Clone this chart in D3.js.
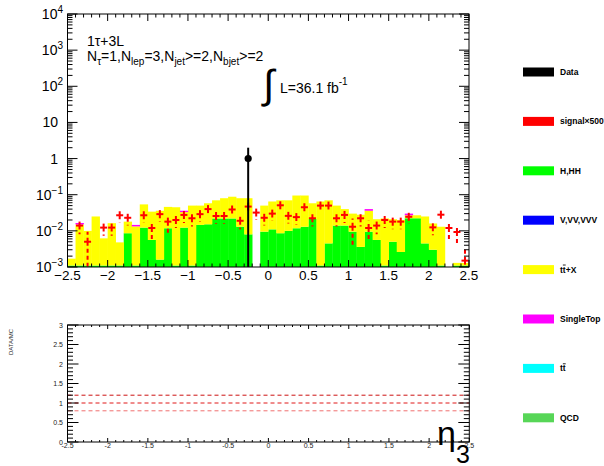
<!DOCTYPE html>
<html><head><meta charset="utf-8">
<script src="https://cdn.jsdelivr.net/npm/d3@7"></script>
<style>
body{margin:0;background:#fff}
svg{display:block}
text{font-family:"Liberation Sans",Arial,Helvetica,sans-serif}
</style>
</head><body>
<svg id="c" width="604" height="466"></svg>
<script>
// ---------------- data ----------------
const etaRange = [-2.5, 2.5];
const nBins = 50;
const xTickLabels = ["−2.5","−2","−1.5","−1","−0.5","0","0.5","1","1.5","2","2.5"];
const xTickValues = [-2.5,-2,-1.5,-1,-0.5,0,0.5,1,1.5,2,2.5];
const yExponents = [-3,-2,-1,0,1,2,3,4];
const ratioTicks = [0,0.5,1,1.5,2,2.5,3];
const ratioLines = [1.2,1.0,0.8];

// H,HH (green)
const hhh = [0.0011,0.0011,0.0011,0.0011,0.0011,0.0011,0.0011,0.0086,0.0011,0.0123,
  0.0056,0.0016,0.0118,0.0011,0.0123,0.0011,0.0146,0.0152,0.022,0.022,
  0.022,0.013,0.008,0,0.0095,0.011,0.0086,0.01,0.0118,0.013,
  0.0214,0.0011,0.0045,0.014,0.014,0.0095,0.0036,0.0095,0.0056,0.0011,
  0.005,0.0026,0.0223,0.0223,0.0045,0.003,0.0011,0,0.0011,0.0011];
// V,VV,VVV (blue) - empty
const vvv = [0,0,0,0,0,0,0,0,0,0, 0,0,0,0,0,0,0,0,0,0, 0,0,0,0,0,0,0,0,0,0,
  0,0,0,0,0,0,0,0,0,0, 0,0,0,0,0,0,0,0,0,0];
// ttbar+X (yellow)
const ttx = [0.0006,0.0139,0.0089,0.0239,0.0051,0.0152,0.0037,0.0094,0.0122,0.0417,
  0.0284,0.0344,0.0342,0.0439,0.0207,0.0489,0.0354,0.0428,0.048,0.058,
  0.066,0.067,0.072,0,0.0405,0.054,0.0614,0.06,0.0832,0.082,
  0.0366,0.0639,0.0655,0.036,0.026,0.0205,0.0244,0.0265,0.0154,0.0209,
  0.016,0.0174,0.0047,0.0047,0.0205,0.013,0.0119,0,0.0002,0.0002];
// SingleTop (magenta)
const singleTop = [0,0.0015,0,0,0,0,0,0,0.0013,0,
  0,0,0,0,0.003,0,0,0,0,0,
  0,0,0,0,0,0,0,0,0,0,
  0,0,0,0,0,0,0,0.004,0,0,
  0,0,0.003,0,0,0,0,0,0,0];
// signal x500
const signal = [0,0.014,0.005,0,0.0123,0.0123,0.027,0.023,0,0.027,
  0.012,0.029,0.018,0.02,0.0276,0.0223,0.029,0.04,0.0258,0.0258,
  0.039,0.019,0.047,0.032,0.023,0.03,0.051,0.026,0.024,0.045,
  0.0223,0.05,0.05,0.0223,0.0276,0.013,0.0223,0.012,0.014,0.02,
  0.018,0.018,0.0245,0,0,0.0125,0.028,0.012,0.0093,0.0015];
const signalErr = [0,0.006,0.0045,0,0.005,0.005,0.01,0.009,0,0.01,
  0.006,0.011,0.01,0.008,0.011,0.009,0.011,0.014,0.01,0.01,
  0.014,0.008,0.017,0.012,0.009,0.011,0.018,0.01,0.009,0.016,
  0.009,0.018,0.018,0.009,0.011,0.009,0.009,0.007,0.006,0.008,
  0.007,0.007,0.009,0,0,0.005,0.01,0.006,0.005,0.0019];
// data
const dataVals = [0,0,0,0,0,0,0,0,0,0, 0,0,0,0,0,0,0,0,0,0, 0,0,1,0,0,0,0,0,0,0,
  0,0,0,0,0,0,0,0,0,0, 0,0,0,0,0,0,0,0,0,0];
const dataErr = [0,0,0,0,0,0,0,0,0,0, 0,0,0,0,0,0,0,0,0,0, 0,0,1,0,0,0,0,0,0,0,
  0,0,0,0,0,0,0,0,0,0, 0,0,0,0,0,0,0,0,0,0];

const legendNames = ["Data","signal×500","H,HH","V,VV,VVV","ttbar+X","SingleTop","ttbar","QCD"];
const legendColors = ["#000000","#ff0000","#00ff00","#0000ff","#ffff00","#ff00ff","#00ffff","#57d657"];

// ---------------- drawing ----------------
const svg = d3.select("#c");
const X0 = 67.5, X1 = 469, YT = 14, YB = 267;
const x = d3.scaleLinear().domain(etaRange).range([X0, X1]);
const y = d3.scaleLog().domain([1e-3, 1e4]).range([YB, YT]).clamp(true);
const bw = (etaRange[1]-etaRange[0]) / nBins;
const lo = i => etaRange[0] + i*bw;

// stack
const layers = [
  {v: hhh, c: "#00ff00"},
  {v: vvv, c: "#0000ff"},
  {v: ttx, c: "#ffff00"},
  {v: singleTop, c: "#ff00ff"}
];
const cum = new Array(nBins).fill(0);
const gStack = svg.append("g");
layers.forEach(L => {
  for (let i = 0; i < nBins; i++) {
    const a = cum[i], b = cum[i] + L.v[i];
    cum[i] = b;
    if (L.v[i] <= 0 || b <= 1e-3) continue;
    const ya = a <= 1e-3 ? YB : y(a), yb = y(b);
    const xa = x(lo(i)), xb = x(lo(i)+bw);
    gStack.append("rect").attr("x", xa).attr("y", yb)
      .attr("width", xb - xa + 0.3).attr("height", ya - yb).attr("fill", L.c);
  }
});

// signal crosses
const gSig = svg.append("g").attr("stroke", "#ff0000").attr("stroke-width", 2)
  .attr("stroke-dasharray", "4,3").attr("fill", "none");
signal.forEach((v, i) => {
  if (v <= 0) return;
  const cx = x(lo(i) + bw/2), cy = y(v);
  const up = y(v + signalErr[i]);
  const dn = (v - signalErr[i]) > 1e-3 ? y(v - signalErr[i]) : YB;
  const segs = [[cx, cy, x(lo(i))+0.5, cy], [cx, cy, x(lo(i)+bw)-0.5, cy], [cx, cy, cx, up], [cx, cy, cx, dn]];
  segs.forEach(s => gSig.append("line").attr("x1", s[0]).attr("y1", s[1]).attr("x2", s[2]).attr("y2", s[3]));
});

// data
dataVals.forEach((v, i) => {
  if (v <= 0) return;
  const cx = x(lo(i) + bw/2);
  const dn = (v - dataErr[i]) > 1e-3 ? y(v - dataErr[i]) : YB;
  svg.append("line").attr("x1", cx).attr("x2", cx).attr("y1", y(v + dataErr[i])).attr("y2", dn)
    .attr("stroke", "#000").attr("stroke-width", 2);
  svg.append("circle").attr("cx", cx).attr("cy", y(v)).attr("r", 3.6).attr("fill", "#000");
});

// frame + ticks main
const gF = svg.append("g").attr("stroke", "#000").attr("stroke-width", 1).attr("fill", "none");
gF.append("rect").attr("x", X0).attr("y", YT).attr("width", X1 - X0).attr("height", YB - YT);
yExponents.forEach(e => {
  const p = Math.pow(10, e);
  const yy = y(p);
  gF.append("line").attr("x1", X0).attr("x2", X0 + 10).attr("y1", yy).attr("y2", yy);
  gF.append("line").attr("x1", X1).attr("x2", X1 - 10).attr("y1", yy).attr("y2", yy);
  if (e < 4) for (let k = 2; k <= 9; k++) {
    const ym = y(k * p);
    gF.append("line").attr("x1", X0).attr("x2", X0 + 5).attr("y1", ym).attr("y2", ym);
    gF.append("line").attr("x1", X1).attr("x2", X1 - 5).attr("y1", ym).attr("y2", ym);
  }
});
d3.range(0, 51).forEach(k => {
  const xv = x(etaRange[0] + k * 0.1);
  const L = (k % 5 === 0) ? 7 : 3.5;
  gF.append("line").attr("x1", xv).attr("x2", xv).attr("y1", YB).attr("y2", YB - L);
  gF.append("line").attr("x1", xv).attr("x2", xv).attr("y1", YT).attr("y2", YT + L);
});

// y labels main
yExponents.forEach(e => {
  const yy = y(Math.pow(10, e));
  if (e === 0 || e === 1) {
    svg.append("text").attr("x", 58).attr("y", yy + 5).attr("text-anchor", "end")
      .attr("font-size", 14).text(e === 0 ? "1" : "10");
  } else {
    const t = svg.append("text").attr("x", 63).attr("y", yy + 5).attr("text-anchor", "end").attr("font-size", 14);
    t.append("tspan").text("10");
    t.append("tspan").attr("dy", -6).attr("font-size", 10).text(e < 0 ? "−" + (-e) : "" + e);
  }
});
xTickValues.forEach((v, i) => {
  svg.append("text").attr("x", x(v)).attr("y", 280).attr("text-anchor", "middle")
    .attr("font-size", 13.5).text(xTickLabels[i]);
});

// texts
svg.append("text").attr("x", 87).attr("y", 46).attr("font-size", 14).text("1τ+3L");
(function(){
  const t = svg.append("text").attr("x", 87).attr("y", 61).attr("font-size", 14);
  const parts = [["N",""],["τ","s"],["=1,N",""],["lep","s"],["=3,N",""],["jet","s"],[">=2,N",""],["bjet","s"],[">=2",""]];
  let sub = false;
  parts.forEach(p => {
    const ts = t.append("tspan").text(p[0]);
    if (p[1] === "s") { ts.attr("font-size", 10).attr("dy", 4); sub = true; }
    else if (sub) { ts.attr("dy", -4); sub = false; }
  });
})();
svg.append("text").attr("x", 263).attr("y", 98).attr("font-size", 40).attr("font-family", "DejaVu Sans").text("∫");
(function(){
  const t = svg.append("text").attr("x", 280).attr("y", 93).attr("font-size", 14);
  t.append("tspan").text("L=36.1 fb");
  t.append("tspan").attr("dy", -8).attr("font-size", 10).text("-1");
})();

// legend
const LX = 523, LY0 = 72, LDY = 49.4;
legendNames.forEach((n, i) => {
  const cy = LY0 + i * LDY;
  svg.append("rect").attr("x", LX).attr("y", cy - 4.5).attr("width", 31).attr("height", 9).attr("fill", legendColors[i]);
  const t = svg.append("text").attr("x", 560).attr("y", cy + 3).attr("font-size", 8.5).attr("font-weight", "bold");
  if (n === "ttbar+X" || n === "ttbar") {
    t.append("tspan").text("t");
    t.append("tspan").style("text-decoration", "overline").text("t");
    if (n === "ttbar+X") t.append("tspan").text("+X");
  } else t.text(n);
});

// ---------------- ratio panel ----------------
const RX0 = 67.5, RX1 = 469.3, RT = 325, RB = 442;
const xr = d3.scaleLinear().domain(etaRange).range([RX0, RX1]);
const yr = d3.scaleLinear().domain([0, 3]).range([RB, RT]);
const lineCols = ["#cc1010", "#e01818", "#f07070"];
ratioLines.forEach((v, i) => {
  svg.append("line").attr("x1", RX0).attr("x2", RX1).attr("y1", yr(v)).attr("y2", yr(v))
    .attr("stroke", lineCols[i]).attr("stroke-width", 1).attr("stroke-dasharray", "4,3");
});
const gR = svg.append("g").attr("stroke", "#000").attr("stroke-width", 1).attr("fill", "none");
gR.append("rect").attr("x", RX0).attr("y", RT).attr("width", RX1 - RX0).attr("height", RB - RT);
d3.range(0, 31).forEach(k => {
  const yy = yr(k * 0.1);
  const L = (k % 5 === 0) ? 11 : 5.5;
  gR.append("line").attr("x1", RX0).attr("x2", RX0 + L).attr("y1", yy).attr("y2", yy);
  gR.append("line").attr("x1", RX1).attr("x2", RX1 - L).attr("y1", yy).attr("y2", yy);
});
d3.range(0, 51).forEach(k => {
  const xv = xr(etaRange[0] + k * 0.1);
  const L = (k % 5 === 0) ? 4 : 2;
  gR.append("line").attr("x1", xv).attr("x2", xv).attr("y1", RB).attr("y2", RB - L);
  gR.append("line").attr("x1", xv).attr("x2", xv).attr("y1", RT).attr("y2", RT + L);
});
ratioTicks.forEach(v => {
  svg.append("text").attr("x", 63).attr("y", yr(v) + 2.5).attr("text-anchor", "end")
    .attr("font-size", 7).attr("fill", "#222").text(v);
});
xTickValues.forEach((v, i) => {
  svg.append("text").attr("x", xr(v)).attr("y", 448).attr("text-anchor", "middle")
    .attr("font-size", 7).attr("fill", "#222").text(xTickLabels[i].replace("−", "-"));
});
svg.append("text").attr("transform", "translate(13,342) rotate(-90)").attr("text-anchor", "middle")
  .attr("font-size", 6).attr("fill", "#222").text("DATA/MC");
(function(){
  const t = svg.append("text").attr("x", 437).attr("y", 445).attr("font-size", 34);
  t.append("tspan").text("η");
  t.append("tspan").attr("font-size", 25).attr("dy", 18).text("3");
})();
</script>
</body></html>
